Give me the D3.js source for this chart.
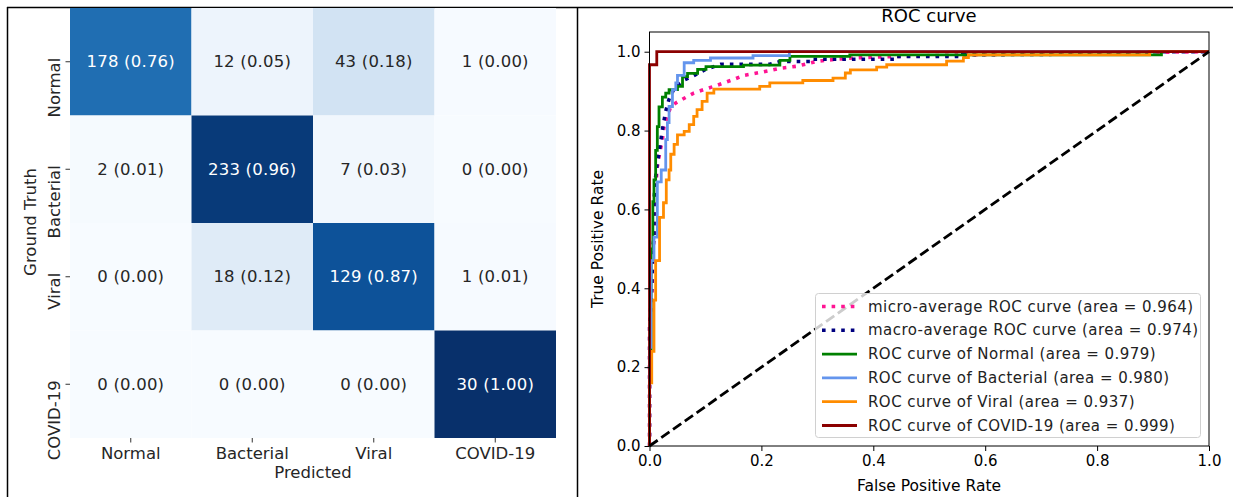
<!DOCTYPE html>
<html>
<head>
<meta charset="utf-8">
<script src="https://cdn.jsdelivr.net/npm/d3@7"></script>
<style>
  body { margin: 0; background: #fff; }
  svg { display: block; font-family: "DejaVu Sans", sans-serif; }
</style>
</head>
<body>
<svg id="chart" width="1233" height="497"></svg>
<script>
// confusion matrix data
const classes = ["Normal", "Bacterial", "Viral", "COVID-19"];
const counts = [
  [178, 12, 43, 1],
  [2, 233, 7, 0],
  [0, 18, 129, 1],
  [0, 0, 0, 30]
];

// ROC curves, [fpr, tpr] pairs
const microRoc = [[0,0],[0,0.30],[0.004,0.38],[0.006,0.48],[0.008,0.53],[0.011,0.62],[0.013,0.70],[0.017,0.734],[0.023,0.777],
  [0.026,0.81],[0.032,0.836],[0.038,0.861],[0.047,0.870],[0.062,0.882],[0.079,0.895],[0.097,0.904],[0.115,0.912],[0.133,0.921],
  [0.151,0.93],[0.169,0.94],[0.2,0.948],[0.233,0.958],[0.263,0.963],[0.298,0.975],[0.32,0.979],[0.35,0.983],[0.38,0.985],
  [0.44,0.988],[0.5,0.99],[0.56,0.992],[0.7,0.995],[0.85,0.998],[1,1]];
const macroRoc = [[0,0],[0,0.30],[0.004,0.40],[0.006,0.50],[0.008,0.53],[0.008,0.62],[0.011,0.683],[0.014,0.72],[0.017,0.743],
  [0.023,0.802],[0.029,0.849],[0.035,0.88],[0.045,0.91],[0.063,0.929],[0.076,0.937],[0.1,0.955],[0.127,0.968],[0.215,0.968],
  [0.233,0.975],[0.287,0.975],[0.287,0.981],[0.441,0.981],[0.441,0.988],[0.56,0.988],[0.56,0.992],[0.9,0.995],[0.9,1],[1,1]];
const normalRoc = [[0,0],[0,0.17],[0.003,0.17],[0.003,0.5],[0.006,0.5],[0.006,0.62],[0.008,0.62],[0.008,0.675],[0.011,0.675],
  [0.011,0.75],[0.014,0.75],[0.014,0.81],[0.017,0.81],[0.017,0.86],[0.023,0.86],[0.023,0.885],[0.029,0.885],[0.029,0.895],
  [0.035,0.895],[0.035,0.904],[0.05,0.904],[0.05,0.912],[0.059,0.912],[0.059,0.937],[0.068,0.937],[0.068,0.945],[0.086,0.945],
  [0.086,0.955],[0.101,0.955],[0.101,0.962],[0.168,0.962],[0.168,0.966],[0.233,0.966],[0.233,0.978],[0.251,0.978],[0.251,0.988],
  [0.358,0.988],[0.358,0.992],[0.915,0.992],[0.915,1],[1,1]];
const bacterialRoc = [[0,0],[0,0.25],[0.003,0.25],[0.003,0.47],[0.008,0.47],[0.008,0.53],[0.014,0.53],[0.014,0.67],[0.021,0.67],
  [0.021,0.70],[0.029,0.70],[0.029,0.777],[0.032,0.777],[0.032,0.82],[0.035,0.82],[0.035,0.861],[0.041,0.861],[0.041,0.904],
  [0.047,0.904],[0.047,0.921],[0.05,0.921],[0.05,0.94],[0.062,0.94],[0.062,0.972],[0.079,0.972],[0.079,0.978],[0.109,0.978],
  [0.109,0.984],[0.185,0.984],[0.185,0.99],[0.25,0.99],[0.25,1],[1,1]];
const viralRoc = [[0,0],[0,0.16],[0.004,0.16],[0.004,0.24],[0.008,0.24],[0.008,0.37],[0.011,0.37],[0.011,0.47],[0.018,0.47],
  [0.018,0.58],[0.025,0.58],[0.025,0.617],[0.03,0.617],[0.03,0.675],[0.035,0.675],[0.035,0.70],[0.038,0.70],[0.038,0.74],
  [0.044,0.74],[0.044,0.765],[0.05,0.765],[0.05,0.789],[0.062,0.789],[0.062,0.798],[0.071,0.798],[0.071,0.815],[0.079,0.815],
  [0.079,0.836],[0.085,0.836],[0.085,0.853],[0.094,0.853],[0.094,0.874],[0.103,0.874],[0.103,0.895],[0.115,0.895],[0.115,0.905],
  [0.197,0.905],[0.197,0.912],[0.215,0.912],[0.215,0.921],[0.274,0.921],[0.274,0.927],[0.328,0.927],[0.328,0.933],[0.35,0.933],
  [0.35,0.946],[0.359,0.946],[0.359,0.954],[0.406,0.954],[0.406,0.961],[0.424,0.961],[0.424,0.967],[0.531,0.967],[0.531,0.976],
  [0.561,0.976],[0.561,0.985],[0.57,0.985],[0.57,0.992],[0.894,0.992],[0.894,1],[1,1]];
const covidRoc = [[0,0],[0,0.967],[0.013,0.967],[0.013,1],[1,1]];
const chanceLine = [[0,0],[1,1]];

const rocLabels = [
  "micro-average ROC curve (area = 0.964)",
  "macro-average ROC curve (area = 0.974)",
  "ROC curve of Normal (area = 0.979)",
  "ROC curve of Bacterial (area = 0.980)",
  "ROC curve of Viral (area = 0.937)",
  "ROC curve of COVID-19 (area = 0.999)"
];
const xTicks = [0, 0.2, 0.4, 0.6, 0.8, 1.0];
const yTicks = [0, 0.2, 0.4, 0.6, 0.8, 1.0];

const svg = d3.select("#chart");

// frame lines around the two panels
svg.append("line").attr("x1", 7).attr("x2", 1233).attr("y1", 7.5).attr("y2", 7.5).attr("stroke", "#000").attr("stroke-width", 1.5);
svg.append("line").attr("x1", 7.5).attr("x2", 7.5).attr("y1", 7).attr("y2", 497).attr("stroke", "#000").attr("stroke-width", 1.5);
svg.append("line").attr("x1", 577.5).attr("x2", 577.5).attr("y1", 7).attr("y2", 497).attr("stroke", "#000").attr("stroke-width", 1.5);

// ---------- confusion matrix ----------
const hm = { left: 70, right: 556, top: 8, bottom: 438 };
const xBand = d3.scaleBand().domain(classes).range([hm.left, hm.right]);
const yBand = d3.scaleBand().domain(classes).range([hm.top, hm.bottom]);
const blues = d3.scaleSequential(d3.interpolateBlues).domain([0, 1]);

const cells = [];
counts.forEach((row, i) => {
  const total = d3.sum(row);
  row.forEach((v, j) => cells.push({ truth: classes[i], pred: classes[j], n: v, r: v / total }));
});

const hg = svg.append("g");
hg.selectAll("rect").data(cells).join("rect")
  .attr("x", d => xBand(d.pred))
  .attr("y", d => yBand(d.truth))
  .attr("width", xBand.bandwidth())
  .attr("height", yBand.bandwidth())
  .attr("fill", d => blues(d.r));

hg.selectAll("text.cell").data(cells).join("text")
  .attr("class", "cell")
  .attr("x", d => xBand(d.pred) + xBand.bandwidth() / 2)
  .attr("y", d => yBand(d.truth) + yBand.bandwidth() / 2)
  .attr("text-anchor", "middle")
  .attr("dominant-baseline", "central")
  .attr("font-size", 16.5)
  .attr("letter-spacing", 0.2)
  .attr("fill", d => d.r > 0.5 ? "#fff" : "#262626")
  .text(d => `${d.n} (${d.r.toFixed(2)})`);

// x ticks
classes.forEach(c => {
  const cx = xBand(c) + xBand.bandwidth() / 2;
  hg.append("line").attr("x1", cx).attr("x2", cx).attr("y1", hm.bottom).attr("y2", hm.bottom + 4.5).attr("stroke", "#333");
  hg.append("text").attr("x", cx).attr("y", 459).attr("text-anchor", "middle").attr("font-size", 16.5).attr("fill", "#262626").text(c);
});
hg.append("text").attr("x", 313).attr("y", 478).attr("text-anchor", "middle").attr("font-size", 16.5).attr("fill", "#262626").text("Predicted");

// y ticks
classes.forEach(c => {
  const cy = yBand(c) + yBand.bandwidth() / 2;
  hg.append("line").attr("x1", hm.left - 4.5).attr("x2", hm.left).attr("y1", cy).attr("y2", cy).attr("stroke", "#333");
  hg.append("text").attr("transform", `translate(60,${cy - 4}) rotate(-90)`)
    .attr("text-anchor", "end").attr("font-size", 16.5).attr("fill", "#262626").text(c);
});
hg.append("text").attr("transform", `translate(36,222) rotate(-90)`)
  .attr("text-anchor", "middle").attr("font-size", 16.5).attr("fill", "#262626").text("Ground Truth");

// ---------- ROC curve ----------
const x = d3.scaleLinear().domain([0, 1]).range([649.5, 1209]);
const y = d3.scaleLinear().domain([0, 1.05]).range([446, 32]);
const rg = svg.append("g");

const line = d3.line().x(d => x(d[0])).y(d => y(d[1]));

const series = [
  { data: microRoc, color: "#ff1493", width: 3.6, dash: "3.6,6" },
  { data: macroRoc, color: "#000080", width: 3.6, dash: "3.6,6" },
  { data: normalRoc, color: "#008000", width: 2.8, dash: null },
  { data: bacterialRoc, color: "#6495ed", width: 2.8, dash: null },
  { data: viralRoc, color: "#ff8c00", width: 2.8, dash: null },
  { data: covidRoc, color: "#8b0000", width: 2.8, dash: null }
];

const clip = svg.append("clipPath").attr("id", "plotclip");
clip.append("rect").attr("x", x(0) - 2).attr("y", y(1.05)).attr("width", x(1) - x(0) + 4).attr("height", y(0) - y(1.05) + 2);

const curves = rg.append("g").attr("clip-path", "url(#plotclip)");
series.forEach(s => {
  curves.append("path").datum(s.data)
    .attr("d", line)
    .attr("fill", "none")
    .attr("stroke", s.color)
    .attr("stroke-width", s.width)
    .attr("stroke-dasharray", s.dash)
    .attr("stroke-linejoin", "miter");
});
curves.append("path").datum(chanceLine)
  .attr("d", line).attr("fill", "none").attr("stroke", "#000")
  .attr("stroke-width", 2.8).attr("stroke-dasharray", "10,4.4");

// frame
rg.append("rect").attr("x", x(0)).attr("y", y(1.05)).attr("width", x(1) - x(0)).attr("height", y(0) - y(1.05))
  .attr("fill", "none").attr("stroke", "#000").attr("stroke-width", 1);

// axes
rg.append("g").attr("transform", `translate(0,${y(0)})`)
  .call(d3.axisBottom(x).tickValues(xTicks).tickFormat(d3.format(".1f")).tickSize(5).tickPadding(4))
  .call(g => g.select(".domain").remove())
  .call(g => g.selectAll("text").attr("font-size", 15).attr("font-family", "DejaVu Sans").attr("fill", "#000"));
rg.append("g").attr("transform", `translate(${x(0)},0)`)
  .call(d3.axisLeft(y).tickValues(yTicks).tickFormat(d3.format(".1f")).tickSize(5).tickPadding(4))
  .call(g => g.select(".domain").remove())
  .call(g => g.selectAll("text").attr("font-size", 15).attr("font-family", "DejaVu Sans").attr("fill", "#000"));

rg.append("text").attr("x", 929).attr("y", 22).attr("text-anchor", "middle").attr("font-size", 18).text("ROC curve");
rg.append("text").attr("x", 929).attr("y", 491).attr("text-anchor", "middle").attr("font-size", 15.5).text("False Positive Rate");
rg.append("text").attr("transform", `translate(603,239) rotate(-90)`).attr("text-anchor", "middle").attr("font-size", 15.5).text("True Positive Rate");

// legend
const lg = rg.append("g");
lg.append("rect").attr("x", 815.5).attr("y", 293.5).attr("width", 385).attr("height", 144).attr("rx", 3)
  .attr("fill", "#fff").attr("fill-opacity", 0.8).attr("stroke", "#d0d0d0");
rocLabels.forEach((lab, i) => {
  const ly = 306.5 + i * 23.8;
  const s = series[i];
  lg.append("line").attr("x1", 822).attr("x2", 857).attr("y1", ly).attr("y2", ly)
    .attr("stroke", s.color).attr("stroke-width", s.width).attr("stroke-dasharray", s.dash);
  lg.append("text").attr("x", 868).attr("y", ly).attr("dominant-baseline", "central")
    .attr("font-size", 15).attr("letter-spacing", 0.45).attr("fill", "#222").text(lab);
});
</script>
</body>
</html>
